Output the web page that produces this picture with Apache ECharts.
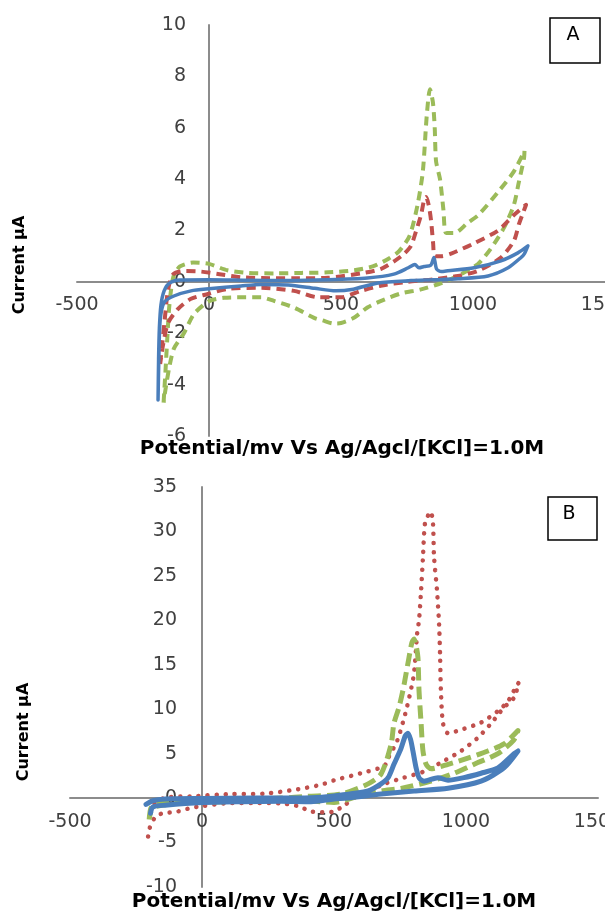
<!DOCTYPE html>
<html>
<head>
<meta charset="utf-8">
<script src="https://cdn.jsdelivr.net/npm/echarts@6/dist/echarts.min.js"></script>
<style>
  html, body { margin: 0; padding: 0; background: #fff; }
  #main { width: 605px; height: 911px; }
</style>
</head>
<body>
<div id="main"></div>
<script>
// 两个循环伏安图 A / B
var myChart = echarts.init(document.getElementById('main'));

var xTicks = [-500, 0, 500, 1000, 1500];
var yTicksA = [-6, -4, -2, 0, 2, 4, 6, 8, 10];
var yTicksB = [-10, -5, 0, 5, 10, 15, 20, 25, 30, 35];

var xTitle = 'Potential/mv Vs Ag/Agcl/[KCl]=1.0M';
var yTitle = 'Current µA';

// panel A, [potential mV, current µA]
var greenA = [
  [-172, -4.7], [-165, -3.5], [-158, -2.2], [-150, -0.9], [-135, 0.2], [-110, 0.6], [-60, 0.75],
  [0, 0.7], [70, 0.45], [150, 0.35], [250, 0.33], [350, 0.35], [450, 0.37], [550, 0.45],
  [620, 0.6], [680, 0.9], [720, 1.2], [760, 1.8], [790, 3.0], [810, 4.3], [825, 6.5], [837, 7.5],
  [848, 7.0], [855, 6.0], [860, 4.7], [875, 4.0], [888, 2.8], [898, 1.9], [930, 1.9], [980, 2.3],
  [1020, 2.6], [1095, 3.5], [1155, 4.3], [1195, 5.1], [1193, 4.8], [1174, 3.9], [1155, 3.0],
  [1117, 2.1], [1068, 1.3], [1019, 0.7], [955, 0.3], [880, -0.05], [800, -0.3], [727, -0.45],
  [650, -0.75], [600, -1.0], [549, -1.4], [500, -1.6], [473, -1.62], [430, -1.5], [398, -1.4],
  [322, -1.0], [246, -0.74], [197, -0.6], [121, -0.6], [57, -0.62], [0, -0.75], [-57, -1.25],
  [-95, -2.0], [-133, -2.6], [-150, -3.3], [-165, -4.2], [-172, -4.7]
];
var redA = [
  [-185, -3.2], [-178, -2.5], [-168, -1.5], [-155, -0.3], [-135, 0.3], [-90, 0.42], [-30, 0.4],
  [40, 0.3], [121, 0.18], [200, 0.15], [320, 0.14], [450, 0.16], [576, 0.33], [650, 0.5],
  [701, 0.8], [740, 1.1], [765, 1.4], [785, 2.0], [803, 2.6], [815, 3.2], [822, 3.3], [832, 3.0],
  [841, 2.4], [849, 1.5], [855, 1.0], [880, 1.0], [917, 1.1], [1004, 1.5], [1095, 2.0],
  [1155, 2.6], [1201, 3.0], [1190, 2.7], [1174, 2.25], [1155, 1.6], [1106, 0.95], [1019, 0.43],
  [943, 0.23], [850, 0.1], [750, 0.0], [650, -0.15], [576, -0.35], [500, -0.6], [413, -0.6],
  [322, -0.35], [197, -0.23], [72, -0.27], [-4, -0.47], [-68, -0.66], [-117, -1.05],
  [-155, -1.6], [-175, -2.5], [-185, -3.2]
];
var blueA = [
  [-193, -4.6], [-191, -3.0], [-188, -1.8], [-182, -0.9], [-170, -0.35], [-150, -0.05],
  [-110, 0.07], [0, 0.08], [150, 0.06], [300, 0.05], [450, 0.08], [600, 0.15], [700, 0.3],
  [755, 0.55], [780, 0.68], [795, 0.55], [815, 0.6], [840, 0.65], [852, 0.95], [862, 0.5],
  [880, 0.4], [905, 0.43], [1004, 0.55], [1106, 0.82], [1170, 1.13], [1208, 1.4], [1195, 1.1],
  [1182, 0.95], [1133, 0.55], [1057, 0.23], [943, 0.12], [850, 0.08], [765, 0.05], [640, -0.04],
  [540, -0.3], [480, -0.35], [400, -0.25], [300, -0.12], [197, -0.1], [121, -0.16], [0, -0.27],
  [-68, -0.35], [-133, -0.55], [-170, -0.8], [-185, -1.5], [-190, -3.0], [-193, -4.6]
];

// panel B
var redB = [
  [-180, -0.6], [-140, 0.05], [-42, 0.2], [110, 0.45], [235, 0.5], [364, 1.0], [450, 1.5],
  [500, 2.0], [602, 2.8], [690, 3.6], [705, 4.5], [740, 6.5], [770, 9.5], [790, 12], [803, 14],
  [815, 18.5], [822, 20], [830, 23.4], [837, 27.1], [845, 31], [860, 32], [867, 32.2],
  [875, 30.9], [879, 27.1], [890, 23.4], [898, 19.6], [902, 15.8], [905, 12.1], [913, 8.4],
  [932, 7.3], [992, 7.8], [1057, 8.5], [1121, 9.8], [1159, 10.9], [1189, 12.5], [1200, 13],
  [1182, 11.3], [1144, 10.2], [1095, 8.4], [1045, 6.8], [981, 5.3], [917, 4.2], [841, 3.0],
  [765, 2.3], [690, 1.6], [633, 0.8], [580, 0.1], [540, -0.8], [500, -1.5], [470, -1.6],
  [413, -1.5], [364, -0.9], [300, -0.6], [200, -0.55], [110, -0.55], [0, -0.9], [-42, -1.1],
  [-91, -1.5], [-144, -1.7], [-174, -2.0], [-200, -3.5], [-205, -4.6]
];
var greenB = [
  [-200, -2.4], [-193, -1.1], [-170, -0.5], [-100, -0.35], [0, -0.3], [100, -0.2], [200, -0.1],
  [300, 0.0], [400, 0.2], [527, 0.45], [629, 1.6], [678, 2.7], [716, 6.0], [727, 8.4],
  [746, 10.2], [761, 12.1], [773, 14], [784, 15.8], [795, 17.5], [803, 17.9], [812, 17],
  [818, 15.8], [822, 12.1], [830, 8.4], [837, 5.3], [849, 3.8], [867, 3.3], [932, 3.8],
  [1007, 4.5], [1083, 5.3], [1144, 6.1], [1197, 7.6], [1180, 6.5], [1121, 5.0], [1045, 4.0],
  [955, 2.8], [867, 1.9], [754, 1.1], [678, 0.8], [600, 0.3], [500, -0.5], [450, -0.4],
  [350, -0.2], [200, -0.35], [0, -0.45], [-100, -0.6], [-170, -0.9], [-193, -1.5], [-200, -2.4]
];
var blueB = [
  [-212, -0.7], [-186, -0.3], [-140, -0.1], [0, -0.05], [200, 0.0], [413, 0.05], [500, 0.25],
  [629, 0.8], [678, 1.6], [705, 2.3], [727, 3.8], [754, 5.6], [770, 7.0], [780, 7.3],
  [790, 6.6], [799, 5.3], [811, 3.4], [822, 2.3], [841, 1.9], [894, 2.3], [932, 2.0],
  [992, 2.3], [1057, 2.8], [1121, 3.4], [1182, 5.0], [1197, 5.3], [1144, 3.4], [1057, 1.9],
  [932, 1.1], [803, 0.8], [678, 0.45], [550, 0.0], [500, -0.1], [413, -0.4], [300, -0.35],
  [150, -0.4], [0, -0.5], [-140, -0.8], [-186, -1.0], [-195, -1.7]
];

var GREEN = '#9BBB59', RED = '#C0504D', BLUE = '#4A7EBB';
var FONT = 'DejaVu Sans';

var gridA = {left: 77, top: 25, width: 528, height: 411, outerBoundsMode: 'none'};
var gridB = {left: 70, top: 487, width: 528, height: 400, outerBoundsMode: 'none'};

// Excel 风格：坐标轴交于 0，标签跟着轴线走
function xAxisOf(gridIndex, grid, yTicks) {
  var zeroFromBottom = grid.height * (0 - yTicks[0]) / (yTicks[yTicks.length - 1] - yTicks[0]);
  return {
    type: 'value',
    gridIndex: gridIndex,
    position: 'bottom',
    offset: -zeroFromBottom,
    min: xTicks[0],
    max: xTicks[xTicks.length - 1],
    interval: 500,
    axisLine: {onZero: false, lineStyle: {color: '#8c8c8c', width: 2}},
    axisTick: {show: false},
    splitLine: {show: false},
    axisLabel: {
      margin: 14, fontSize: 19, color: '#404040', fontFamily: FONT,
      showMinLabel: true, showMaxLabel: true,
      formatter: function (v) { return String(v); }
    }
  };
}

function yAxisOf(gridIndex, grid, ticks, margin) {
  var zeroFromLeft = grid.width * (0 - xTicks[0]) / (xTicks[xTicks.length - 1] - xTicks[0]);
  return {
    type: 'value',
    gridIndex: gridIndex,
    position: 'left',
    offset: -zeroFromLeft,
    min: ticks[0],
    max: ticks[ticks.length - 1],
    interval: ticks[1] - ticks[0],
    axisLine: {onZero: false, lineStyle: {color: '#8c8c8c', width: 2}},
    axisTick: {show: false},
    splitLine: {show: false},
    axisLabel: {
      margin: margin, fontSize: 19, color: '#404040', fontFamily: FONT,
      showMinLabel: true, showMaxLabel: true,
      formatter: function (v) { return String(v); }
    }
  };
}

function curve(data, idx, color, width, dash, cap) {
  return {
    type: 'line',
    xAxisIndex: idx,
    yAxisIndex: idx,
    data: data,
    showSymbol: false,
    smooth: 0.25,
    lineStyle: {color: color, width: width, type: dash, cap: cap || 'butt', join: 'round'}
  };
}

function label(text, x, y, rot, size, weight) {
  return {
    type: 'text',
    x: x, y: y,
    rotation: rot,
    style: {
      text: text, fontSize: size, fontWeight: weight, fontFamily: FONT,
      fill: '#000', align: 'center', verticalAlign: 'middle'
    }
  };
}

function box(letter, x, y, w, h, tx, ty) {
  return [
    {type: 'rect', shape: {x: x, y: y, width: w, height: h},
     style: {fill: '#fff', stroke: '#000', lineWidth: 1.5}},
    label(letter, tx, ty, 0, 19, 'normal')
  ];
}

var option = {
  backgroundColor: '#fff',
  animation: false,
  grid: [gridA, gridB],
  xAxis: [xAxisOf(0, gridA, yTicksA), xAxisOf(1, gridB, yTicksB)],
  yAxis: [yAxisOf(0, gridA, yTicksA, 23), yAxisOf(1, gridB, yTicksB, 25)],
  graphic: [
    label(xTitle, 342, 449, 0, 20, 'bold'),
    label(xTitle, 334, 902, 0, 20, 'bold'),
    label(yTitle, 20, 265, Math.PI / 2, 16, 'bold'),
    label(yTitle, 24, 732, Math.PI / 2, 16, 'bold')
  ].concat(box('A', 550, 18, 50, 45, 573, 35))
   .concat(box('B', 548, 497, 49, 43, 569, 514)),
  series: [
    curve(greenA, 0, GREEN, 4, [9, 6]),
    curve(redA, 0, RED, 4, [9, 6]),
    curve(blueA, 0, BLUE, 3.5, 'solid', 'round'),
    curve(redB, 1, RED, 4.5, [0.1, 9], 'round'),
    curve(greenB, 1, GREEN, 5, [13, 6]),
    curve(blueB, 1, BLUE, 5, 'solid', 'round')
  ]
};

myChart.setOption(option);
</script>
</body>
</html>
